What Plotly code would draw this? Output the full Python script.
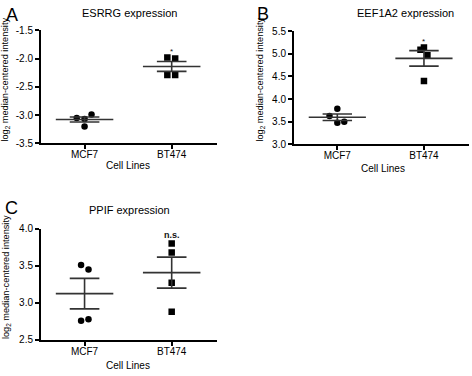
import numpy as np
import plotly.graph_objects as go

# ---------------- data ----------------
cell_lines = ["MCF7", "BT474"]

esrrg_mcf7 = [-3.05, -3.07, -2.99, -3.20]
esrrg_bt474 = [-1.98, -2.00, -2.29, -2.29]

eef1a2_mcf7 = [3.63, 3.79, 3.48, 3.50]
eef1a2_bt474 = [5.09, 5.14, 4.97, 4.40]

ppif_mcf7 = [3.51, 3.45, 2.76, 2.78]
ppif_bt474 = [3.80, 3.68, 3.27, 2.88]

esrrg_ticks = [-3.5, -3.0, -2.5, -2.0, -1.5]
esrrg_ticklabels = ["-3.5", "-3.0", "-2.5", "-2.0", "-1.5"]
eef1a2_ticks = [3.0, 3.5, 4.0, 4.5, 5.0, 5.5]
eef1a2_ticklabels = ["3.0", "3.5", "4.0", "4.5", "5.0", "5.5"]
ppif_ticks = [2.5, 3.0, 3.5, 4.0]
ppif_ticklabels = ["2.5", "3.0", "3.5", "4.0"]

titles = ["ESRRG expression", "EEF1A2 expression", "PPIF expression"]
panel_letters = ["A", "B", "C"]
significance = ["*", "*", "n.s."]
significance_y = [-1.84, 5.32, 3.92]

# small horizontal scatter offsets (style, in category units)
jitter = {
    "A": ([-0.09, 0.0, 0.08, 0.0], [-0.05, 0.04, -0.05, 0.04]),
    "B": ([-0.09, 0.0, 0.0, 0.08], [-0.04, 0.0, 0.04, 0.0]),
    "C": ([-0.04, 0.045, -0.04, 0.045], [0.0, 0.0, 0.0, 0.0]),
}

FONT = "Liberation Sans, Arial, sans-serif"
W, H = 472, 376

panels = [
    dict(key="A", mcf7=esrrg_mcf7, bt=esrrg_bt474, ticks=esrrg_ticks, labels=esrrg_ticklabels,
         yr=[-3.5, -1.5], xdom=[41, 217], ydom=[25, 142], title_x=129, title_y=7,
         letter_x=12, letter_y=9, ytitle_x=6, ytitle_y=76, xtitle_x=128, xtitle_y=165),
    dict(key="B", mcf7=eef1a2_mcf7, bt=eef1a2_bt474, ticks=eef1a2_ticks, labels=eef1a2_ticklabels,
         yr=[3.0, 5.5], xdom=[294, 469], ydom=[26, 143], title_x=405, title_y=7,
         letter_x=263, letter_y=8, ytitle_x=261, ytitle_y=76, xtitle_x=383, xtitle_y=168),
    dict(key="C", mcf7=ppif_mcf7, bt=ppif_bt474, ticks=ppif_ticks, labels=ppif_ticklabels,
         yr=[2.5, 4.0], xdom=[41, 217], ydom=[230, 345], title_x=129, title_y=211,
         letter_x=11, letter_y=209, ytitle_x=6, ytitle_y=280, xtitle_x=128, xtitle_y=371),
]

fig = go.Figure()
annotations = []
MEAN_HW = 0.33
CAP_HW = 0.17
LINE_COL = "#333333"

for i, p in enumerate(panels):
    n = "" if i == 0 else str(i + 1)
    xa, ya = "x" + n, "y" + n
    groups = [p["mcf7"], p["bt"]]
    symbols = ["circle", "square"]
    for gi, vals in enumerate(groups):
        offs = jitter[p["key"]][gi]
        xs = [gi + o for o in offs]
        fig.add_trace(go.Scatter(x=xs, y=vals, mode="markers", xaxis=xa, yaxis=ya,
                                 marker=dict(symbol=symbols[gi], size=6.5, color="black",
                                             line=dict(width=0)),
                                 showlegend=False, hoverinfo="skip"))
        arr = np.array(vals)
        m = arr.mean()
        sem = arr.std(ddof=1) / np.sqrt(len(arr))
        lx = [gi - MEAN_HW, gi + MEAN_HW, None,
              gi - CAP_HW, gi + CAP_HW, None,
              gi - CAP_HW, gi + CAP_HW, None,
              gi, gi]
        ly = [m, m, None, m + sem, m + sem, None, m - sem, m - sem, None, m - sem, m + sem]
        fig.add_trace(go.Scatter(x=lx, y=ly, mode="lines", xaxis=xa, yaxis=ya,
                                 line=dict(color=LINE_COL, width=1.6),
                                 showlegend=False, hoverinfo="skip"))
    xd = [p["xdom"][0] / W, p["xdom"][1] / W]
    yd = [1 - p["ydom"][1] / H, 1 - p["ydom"][0] / H]
    fig.update_layout(**{
        "xaxis" + n: dict(domain=xd, anchor=ya, range=[-0.5, 1.52], tickvals=[0, 1],
                          ticktext=cell_lines, showline=True, linecolor="black", linewidth=2,
                          ticks="outside", ticklen=4, tickwidth=1.5, tickcolor="black",
                          ticklabelstandoff=-3,
                          showgrid=False, zeroline=False,
                          tickfont=dict(size=10, color="black", family=FONT)),
        "yaxis" + n: dict(domain=yd, anchor=xa, range=p["yr"], tickvals=p["ticks"],
                          ticktext=p["labels"], showline=True, linecolor="black", linewidth=2,
                          ticks="outside", ticklen=4, tickwidth=1.5, tickcolor="black",
                          showgrid=False, zeroline=False,
                          tickfont=dict(size=10, color="black", family=FONT)),
    })
    is_star = significance[i] == "*"
    annotations.append(dict(x=1, y=significance_y[i], xref=xa, yref=ya,
                            text=significance[i] if is_star else "<b>" + significance[i] + "</b>",
                            showarrow=False, yanchor="middle",
                            font=dict(size=8 if is_star else 9, color="#111111", family=FONT),
                            yshift=-2 if is_star else 0))
    annotations.append(dict(x=p["title_x"] / W, y=1 - p["title_y"] / H, xref="paper", yref="paper",
                            text=titles[i], showarrow=False, xanchor="center", yanchor="middle",
                            font=dict(size=11, color="black", family=FONT)))
    annotations.append(dict(x=p["letter_x"] / W, y=1 - p["letter_y"] / H, xref="paper", yref="paper",
                            text=panel_letters[i], showarrow=False, xanchor="center", yanchor="middle",
                            font=dict(size=18, color="black", family=FONT)))
    annotations.append(dict(x=p["ytitle_x"] / W, y=1 - p["ytitle_y"] / H, xref="paper", yref="paper",
                            text="log<sub>2</sub> median-centered intensity", textangle=-90,
                            showarrow=False, xanchor="center", yanchor="middle",
                            font=dict(size=9.2, color="black", family=FONT)))
    annotations.append(dict(x=p["xtitle_x"] / W, y=1 - p["xtitle_y"] / H, xref="paper", yref="paper",
                            text="Cell Lines", showarrow=False, xanchor="center", yanchor="middle",
                            font=dict(size=10, color="black", family=FONT)))

fig.update_layout(width=W, height=H, margin=dict(l=0, r=0, t=0, b=0),
                  paper_bgcolor="white", plot_bgcolor="white",
                  annotations=annotations, font=dict(family=FONT, color="black"))

fig.write_html("out.html", config={"displayModeBar": False},
               post_script="document.body.style.margin='0';document.body.style.overflow='hidden';")
